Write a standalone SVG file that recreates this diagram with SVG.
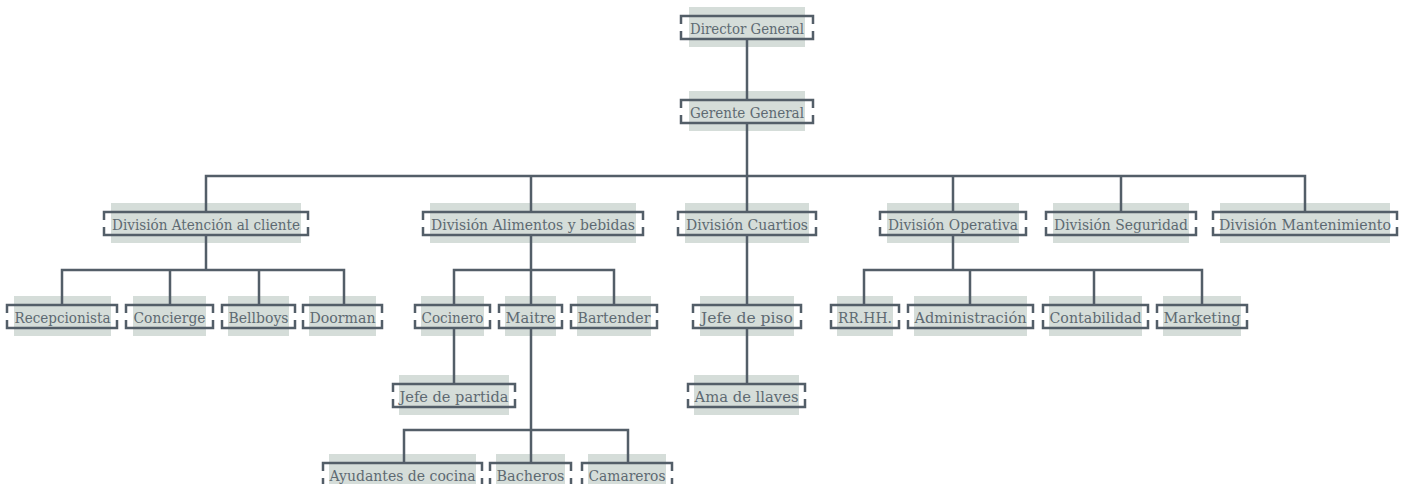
<svg xmlns="http://www.w3.org/2000/svg" width="1412" height="484" viewBox="0 0 1412 484">
<style>
.bg{fill:#d5ddd9}
.br{fill:none;stroke:#535e68;stroke-width:2.5}
.t{font-family:"DejaVu Serif","Liberation Serif",serif;font-size:15.5px;fill:#5e6a72;text-anchor:middle}
.c{fill:none;stroke:#535e68;stroke-width:2.5}
</style>
<rect width="1412" height="484" fill="#ffffff"/>
<g id="nodes">
<g id="n-director"><rect class="bg" x="689" y="7" width="116" height="40"/><path class="br" d="M681,24 V16 H813 V24 M681,31 V39 H813 V31"/><text class="t" x="747" y="33.5" textLength="114" lengthAdjust="spacingAndGlyphs">Director General</text></g>
<g id="n-gerente"><rect class="bg" x="689" y="91" width="116" height="40"/><path class="br" d="M681,108 V100 H813 V108 M681,115 V123 H813 V115"/><text class="t" x="747" y="117.5" textLength="114" lengthAdjust="spacingAndGlyphs">Gerente General</text></g>

<g id="n-atencion"><rect class="bg" x="111" y="203" width="190" height="40"/><path class="br" d="M104,220 V212 H308 V220 M104,227 V235 H308 V227"/><text class="t" x="206" y="229.5" textLength="188" lengthAdjust="spacingAndGlyphs">División Atención al cliente</text></g>
<g id="n-alimentos"><rect class="bg" x="430" y="203" width="206" height="40"/><path class="br" d="M423,220 V212 H643 V220 M423,227 V235 H643 V227"/><text class="t" x="533" y="229.5" textLength="204" lengthAdjust="spacingAndGlyphs">División Alimentos y bebidas</text></g>
<g id="n-cuartios"><rect class="bg" x="685" y="203" width="124" height="40"/><path class="br" d="M678,220 V212 H816 V220 M678,227 V235 H816 V227"/><text class="t" x="747" y="229.5" textLength="122" lengthAdjust="spacingAndGlyphs">División Cuartios</text></g>
<g id="n-operativa"><rect class="bg" x="887" y="203" width="132" height="40"/><path class="br" d="M880,220 V212 H1026 V220 M880,227 V235 H1026 V227"/><text class="t" x="953" y="229.5" textLength="130" lengthAdjust="spacingAndGlyphs">División Operativa</text></g>
<g id="n-seguridad"><rect class="bg" x="1053" y="203" width="136" height="40"/><path class="br" d="M1046,220 V212 H1196 V220 M1046,227 V235 H1196 V227"/><text class="t" x="1121" y="229.5" textLength="134" lengthAdjust="spacingAndGlyphs">División Seguridad</text></g>
<g id="n-mantenimiento"><rect class="bg" x="1220" y="203" width="170" height="40"/><path class="br" d="M1213,220 V212 H1397 V220 M1213,227 V235 H1397 V227"/><text class="t" x="1305" y="229.5" textLength="172" lengthAdjust="spacingAndGlyphs">División Mantenimiento</text></g>

<g id="n-recepcionista"><rect class="bg" x="14" y="296" width="97" height="40"/><path class="br" d="M7,313 V305 H117 V313 M7,320 V328 H117 V320"/><text class="t" x="62.5" y="322.5" textLength="96" lengthAdjust="spacingAndGlyphs">Recepcionista</text></g>
<g id="n-concierge"><rect class="bg" x="133" y="296" width="73" height="40"/><path class="br" d="M126,313 V305 H213 V313 M126,320 V328 H213 V320"/><text class="t" x="169.5" y="322.5" textLength="72" lengthAdjust="spacingAndGlyphs">Concierge</text></g>
<g id="n-bellboys"><rect class="bg" x="228" y="296" width="61" height="40"/><path class="br" d="M222,313 V305 H295 V313 M222,320 V328 H295 V320"/><text class="t" x="258.5" y="322.5" textLength="60" lengthAdjust="spacingAndGlyphs">Bellboys</text></g>
<g id="n-doorman"><rect class="bg" x="309" y="296" width="67" height="40"/><path class="br" d="M303,313 V305 H382 V313 M303,320 V328 H382 V320"/><text class="t" x="342.5" y="322.5" textLength="66" lengthAdjust="spacingAndGlyphs">Doorman</text></g>
<g id="n-cocinero"><rect class="bg" x="421" y="296" width="63" height="40"/><path class="br" d="M415,313 V305 H490 V313 M415,320 V328 H490 V320"/><text class="t" x="452.5" y="322.5" textLength="62" lengthAdjust="spacingAndGlyphs">Cocinero</text></g>
<g id="n-maitre"><rect class="bg" x="505" y="296" width="51" height="40"/><path class="br" d="M499,313 V305 H562 V313 M499,320 V328 H562 V320"/><text class="t" x="530.5" y="322.5" textLength="50" lengthAdjust="spacingAndGlyphs">Maitre</text></g>
<g id="n-bartender"><rect class="bg" x="577" y="296" width="74" height="40"/><path class="br" d="M571,313 V305 H657 V313 M571,320 V328 H657 V320"/><text class="t" x="614" y="322.5" textLength="73" lengthAdjust="spacingAndGlyphs">Bartender</text></g>
<g id="n-jefepiso"><rect class="bg" x="700" y="296" width="94" height="40"/><path class="br" d="M693,313 V305 H801 V313 M693,320 V328 H801 V320"/><text class="t" x="747" y="322.5" textLength="92" lengthAdjust="spacingAndGlyphs">Jefe de piso</text></g>
<g id="n-rrhh"><rect class="bg" x="837" y="296" width="56" height="40"/><path class="br" d="M831,313 V305 H899 V313 M831,320 V328 H899 V320"/><text class="t" x="865" y="322.5" textLength="54" lengthAdjust="spacingAndGlyphs">RR.HH.</text></g>
<g id="n-administracion"><rect class="bg" x="914" y="296" width="113" height="40"/><path class="br" d="M908,313 V305 H1033 V313 M908,320 V328 H1033 V320"/><text class="t" x="970.5" y="322.5" textLength="112" lengthAdjust="spacingAndGlyphs">Administración</text></g>
<g id="n-contabilidad"><rect class="bg" x="1049" y="296" width="93" height="40"/><path class="br" d="M1043,313 V305 H1148 V313 M1043,320 V328 H1148 V320"/><text class="t" x="1095.5" y="322.5" textLength="92" lengthAdjust="spacingAndGlyphs">Contabilidad</text></g>
<g id="n-marketing"><rect class="bg" x="1163" y="296" width="78" height="40"/><path class="br" d="M1157,313 V305 H1247 V313 M1157,320 V328 H1247 V320"/><text class="t" x="1202" y="322.5" textLength="77" lengthAdjust="spacingAndGlyphs">Marketing</text></g>

<g id="n-jefepartida"><rect class="bg" x="399" y="375" width="110" height="40"/><path class="br" d="M393,392 V384 H515 V392 M393,399 V407 H515 V399"/><text class="t" x="454" y="401.5" textLength="109" lengthAdjust="spacingAndGlyphs">Jefe de partida</text></g>
<g id="n-amallaves"><rect class="bg" x="694" y="375" width="105" height="40"/><path class="br" d="M688,392 V384 H805 V392 M688,399 V407 H805 V399"/><text class="t" x="746.5" y="401.5" textLength="104" lengthAdjust="spacingAndGlyphs">Ama de llaves</text></g>

<g id="n-ayudantes"><rect class="bg" x="329" y="454" width="147" height="40"/><path class="br" d="M323,471 V463 H482 V471 M323,478 V486 H482 V478"/><text class="t" x="402.5" y="480.5" textLength="146" lengthAdjust="spacingAndGlyphs">Ayudantes de cocina</text></g>
<g id="n-bacheros"><rect class="bg" x="496" y="454" width="69" height="40"/><path class="br" d="M490,471 V463 H571 V471 M490,478 V486 H571 V478"/><text class="t" x="530.5" y="480.5" textLength="68" lengthAdjust="spacingAndGlyphs">Bacheros</text></g>
<g id="n-camareros"><rect class="bg" x="588" y="454" width="78" height="40"/><path class="br" d="M582,471 V463 H672 V471 M582,478 V486 H672 V478"/><text class="t" x="627" y="480.5" textLength="77" lengthAdjust="spacingAndGlyphs">Camareros</text></g>
</g>
<g id="connectors">
<path class="c" d="M747,39 V100"/>
<path class="c" d="M747,123 V176"/>
<path class="c" d="M206,212 V176 H1305 V212"/>
<path class="c" d="M531,176 V212 M953,176 V212 M1121,176 V212 M747,176 V212"/>
<path class="c" d="M206,235 V270"/>
<path class="c" d="M62,305 V270 H344 V305"/>
<path class="c" d="M170,270 V305 M259,270 V305"/>
<path class="c" d="M531,235 V305"/>
<path class="c" d="M454,305 V270 H614 V305"/>
<path class="c" d="M747,235 V305"/>
<path class="c" d="M953,235 V270"/>
<path class="c" d="M864,305 V270 H1202 V305"/>
<path class="c" d="M970,270 V305 M1094,270 V305"/>
<path class="c" d="M454,328 V384"/>
<path class="c" d="M747,328 V384"/>
<path class="c" d="M531,328 V463"/>
<path class="c" d="M404,463 V430 H628 V463"/>
</g>
</svg>
